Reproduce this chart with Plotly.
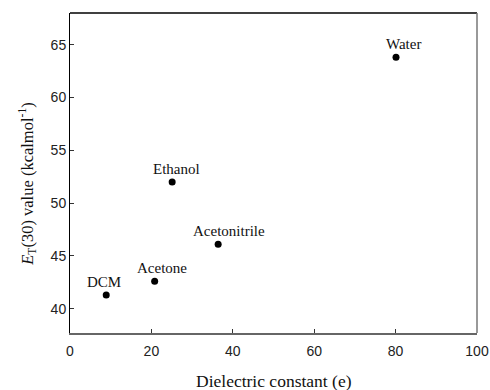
import plotly.graph_objects as go

# Solvent polarity data
solvents = ["DCM", "Acetone", "Ethanol", "Acetonitrile", "Water"]
dielectric = [8.9, 20.8, 25.1, 36.4, 80.1]
et30 = [41.3, 42.6, 52.0, 46.1, 63.8]

# label offsets (px) so names sit above their markers
label_dx = [-2, 7, 4, 11, 7]
label_dy = [3, 3, 3, 3, 3]

fig = go.Figure()
fig.add_trace(go.Scatter(
    x=dielectric, y=et30, mode="markers",
    marker=dict(color="black", size=7),
    showlegend=False, hoverinfo="skip",
))

for name, xv, yv, dx, dy in zip(solvents, dielectric, et30, label_dx, label_dy):
    fig.add_annotation(
        x=xv, y=yv, text=name, showarrow=False,
        xanchor="center", yanchor="bottom", xshift=dx, yshift=dy,
        font=dict(family="Liberation Serif", size=15, color="#111"),
    )

tickfont = dict(family="Liberation Sans", size=14, color="#222")
fig.update_xaxes(
    range=[0, 100], tickvals=[0, 20, 40, 60, 80, 100],
    showgrid=False, zeroline=False, automargin=False,
    showline=True, linecolor="#666", linewidth=1.5,
    ticks="inside", ticklen=4, tickcolor="#333", tickwidth=1,
    tickfont=tickfont, ticklabelstandoff=4,
)
fig.update_yaxes(
    range=[37.7, 68.0], tickvals=[40, 45, 50, 55, 60, 65],
    showgrid=False, zeroline=False, automargin=False,
    showline=True, linecolor="black", linewidth=1,
    ticks="inside", ticklen=4, tickcolor="#333", tickwidth=1,
    tickfont=tickfont,
)

# top (black) and right (grey) frame edges
fig.add_shape(type="line", xref="paper", yref="paper", x0=0, x1=1, y0=1, y1=1,
              line=dict(color="black", width=1.5))
fig.add_shape(type="line", xref="paper", yref="paper", x0=1, x1=1, y0=0, y1=1,
              line=dict(color="#777", width=1.5))

fig.add_annotation(
    xref="paper", yref="paper", x=0.5, y=-0.15, yanchor="middle",
    text="Dielectric constant (e)", showarrow=False,
    font=dict(family="Liberation Serif", size=17.5, color="#111"),
)
fig.add_annotation(
    xref="paper", yref="paper", x=-0.106, y=0.466, xanchor="center", yanchor="middle",
    text="<i>E</i><sub>T</sub>(30) value (kcalmol<sup>-1</sup>)",
    textangle=-90, showarrow=False,
    font=dict(family="Liberation Serif", size=16.5, color="#111"),
)

fig.update_layout(
    width=490, height=390, autosize=False,
    margin=dict(l=70, r=13, t=13, b=57, autoexpand=False),
    paper_bgcolor="white", plot_bgcolor="white",
)

fig.write_html("out.html")
